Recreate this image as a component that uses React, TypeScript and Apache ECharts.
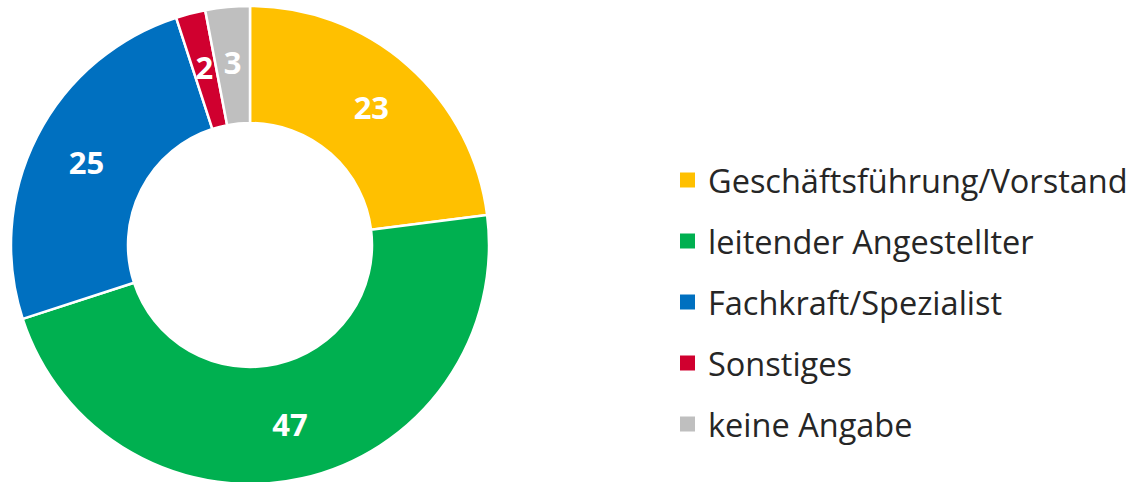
import React, { useEffect, useRef } from "react";
import * as echarts from "echarts";

const categories = [
  "Geschäftsführung/Vorstand",
  "leitender Angestellter",
  "Fachkraft/Spezialist",
  "Sonstiges",
  "keine Angabe",
];
const values = [23, 47, 25, 2, 3];
const colors = ["#FFC000", "#00B050", "#0070C0", "#D0002F", "#BFBFBF"];

export default function App() {
  const ref = useRef<HTMLDivElement>(null);
  useEffect(() => {
    if (!ref.current) return;
    const chart = echarts.init(ref.current, null, { renderer: "svg" });
    chart.setOption({
      animation: false,
      backgroundColor: "#ffffff",
      color: colors,
      legend: {
        orient: "vertical",
        left: 673,
        top: 155,
        padding: 5,
        icon: "rect",
        itemWidth: 17,
        itemHeight: 17,
        itemGap: 21,
        textStyle: {
          fontFamily: "Open Sans",
          fontSize: 32.5,
          lineHeight: 40,
          color: "#262626",
          padding: [0, 0, 0, 7],
        },
        data: categories,
      },
      series: [
        {
          type: "pie",
          center: [250, 245],
          radius: [122, 239],
          startAngle: 90,
          clockwise: true,
          avoidLabelOverlap: false,
          itemStyle: { borderColor: "#ffffff", borderWidth: 2.5 },
          label: {
            show: true,
            position: "inside",
            formatter: "{c}",
            color: "#ffffff",
            fontFamily: "Open Sans",
            fontWeight: "bold",
            fontSize: 31,
          },
          labelLine: { show: false },
          emphasis: { disabled: true },
          data: categories.map((name, i) => ({ name, value: values[i] })),
        },
      ],
    });
    return () => chart.dispose();
  }, []);
  return (
    <div
      ref={ref}
      style={{ position: "fixed", left: 0, top: 0, width: 1132, height: 482 }}
    />
  );
}
